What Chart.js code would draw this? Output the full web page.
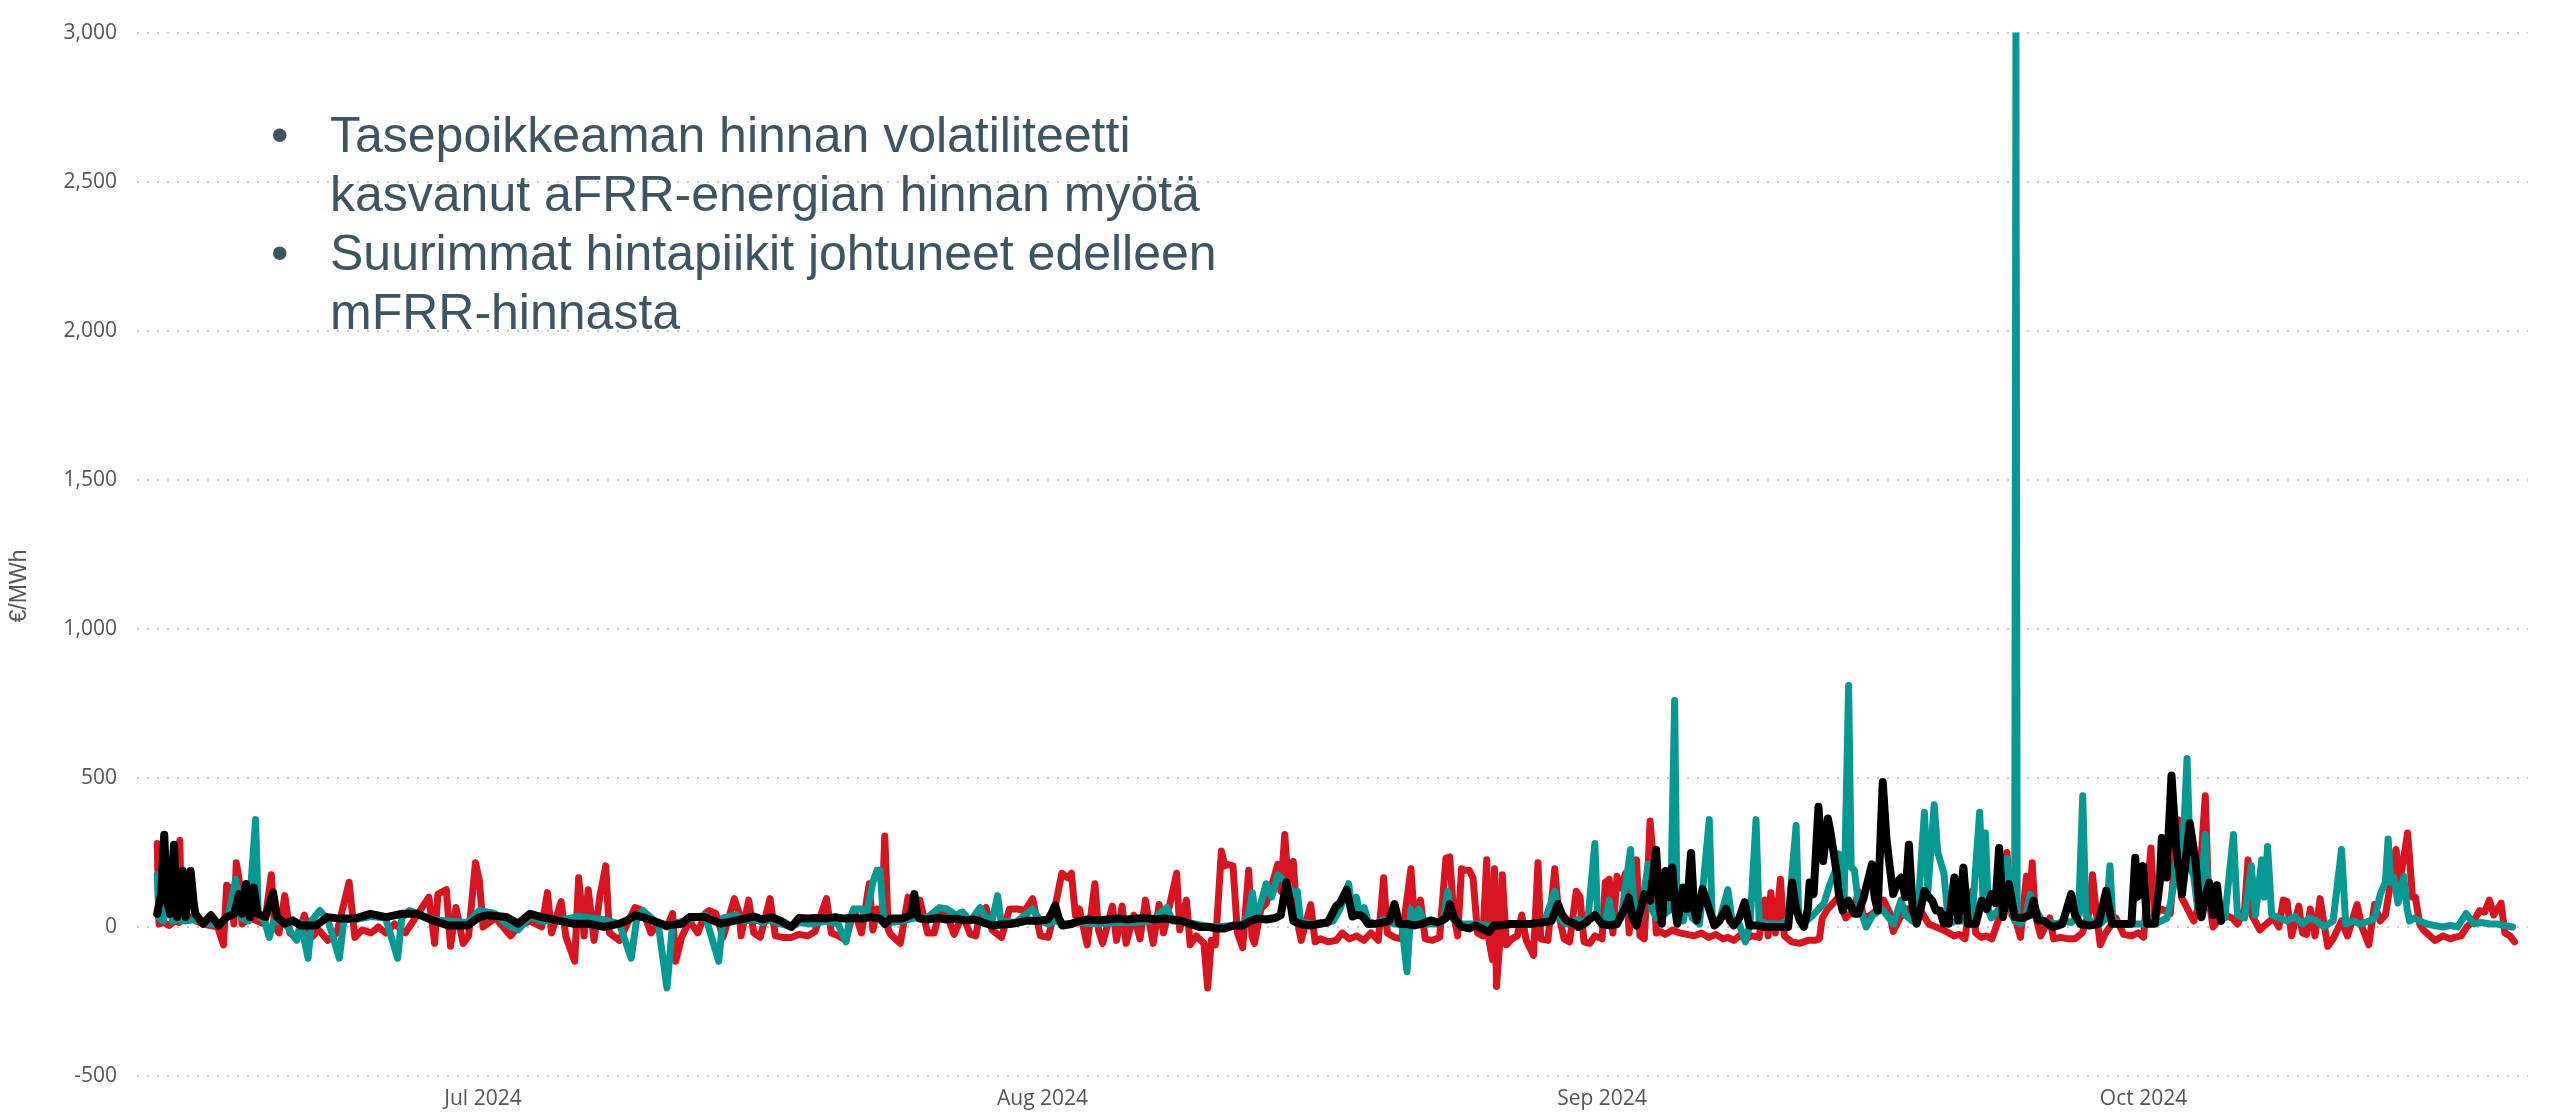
<!DOCTYPE html>
<html>
<head>
<meta charset="utf-8">
<title>Tasepoikkeaman hinta</title>
<script src="https://cdn.jsdelivr.net/npm/chart.js@4.4.1/dist/chart.umd.min.js"></script>
<style>
  html, body { margin: 0; padding: 0; background: #fff; }
  #wrap { position: relative; width: 2552px; height: 1115px; }
  #notes {
    position: absolute; left: 0; top: 106px;
    font-family: "Liberation Sans", Arial, sans-serif;
    font-size: 50px; line-height: 59px; color: #3e5561;
    white-space: nowrap;
  }
  .item { position: relative; padding-left: 330px; }
  .item .dot { position: absolute; left: 271px; top: 0; }
</style>
</head>
<body>
<div id="wrap">
  <canvas id="chart"></canvas>
  <div id="notes">
    <div class="item"><span class="dot">•</span>Tasepoikkeaman hinnan volatiliteetti<br>kasvanut aFRR-energian hinnan myötä</div>
    <div class="item"><span class="dot">•</span>Suurimmat hintapiikit johtuneet edelleen<br>mFRR-hinnasta</div>
  </div>
</div>
<script>
// x = days since 1 Jun 2024
const monthTicks = [30, 61, 92, 122];
const monthLabels = ["Jul 2024", "Aug 2024", "Sep 2024", "Oct 2024"];

// red series [day, €/MWh]
const redSeries = [
  [11.95, 280], [12.05, 10], [12.3, 15], [12.6, 5], [12.9, 20], [13.15, 15], [13.2, 290], [13.3, 20],
  [13.5, 25], [13.8, 35], [14.1, 20], [14.5, 10], [14.9, 5], [15.3, 0], [15.62, -60], [15.8, 140],
  [16.0, 130], [16.2, 10], [16.33, 215], [16.48, 165], [16.65, 10], [17.1, 30], [17.5, 20], [17.9, 10],
  [18.27, 175], [18.45, 0], [18.7, -20], [19.02, 105], [19.3, -20], [19.7, -35], [20.1, 40], [20.5, -35],
  [20.9, -10], [21.4, -45], [21.9, -20], [22.58, 150], [22.9, -35], [23.3, -10], [23.8, -20], [24.2, 0],
  [24.6, -20], [25.1, 10], [25.7, -20], [26.3, 35], [27.0, 100], [27.32, -55], [27.5, 110], [27.97, 125],
  [28.2, -65], [28.5, 65], [28.9, -55], [29.2, -30], [29.58, 215], [29.8, 155], [30.0, 0], [30.7, 30],
  [31.52, -30], [31.95, 0], [32.6, 20], [33.25, 0], [33.57, 115], [33.8, -20], [34.33, 85], [34.6, -35],
  [35.08, -115], [35.3, 165], [35.6, -30], [35.83, 125], [36.15, -45], [36.48, 105], [36.8, 205], [37.0, -20],
  [37.56, -45], [37.99, 10], [38.42, 65], [38.85, 55], [39.3, -20], [39.71, 10], [40.19, 0], [40.5, 45],
  [40.68, -115], [41.0, -35], [41.44, 20], [41.9, -20], [42.3, 45], [42.52, 55], [42.9, 45], [43.3, -35],
  [43.92, 95], [44.2, 45], [44.3, -30], [44.72, 90], [45.0, -20], [45.36, -35], [45.9, 95], [46.2, -30],
  [46.6, -35], [47.09, -35], [47.5, -25], [48.0, -30], [48.4, -15], [49.03, 95], [49.3, -20], [49.7, -30],
  [50.11, -45], [50.54, 60], [50.97, -20], [51.4, 145], [51.6, -10], [51.83, 60], [52.1, 40], [52.26, 305],
  [52.45, -10], [52.58, -25], [53.12, -55], [53.55, 100], [53.9, 40], [54.2, 90], [54.63, -20], [55.0, -20],
  [55.28, 50], [55.71, 40], [56.1, -25], [56.57, 40], [57.0, -25], [57.3, -30], [57.54, 50], [57.87, 65],
  [58.2, -10], [58.73, -35], [59.16, 60], [59.6, 60], [60.02, 55], [60.45, 95], [60.88, -30], [61.31, -35],
  [61.5, 10], [62.07, 180], [62.39, 165], [62.6, 180], [62.82, 40], [63.04, 60], [63.47, -60], [63.9, 145],
  [64.1, -10], [64.33, -55], [64.87, 70], [65.1, -45], [65.41, 70], [65.63, -55], [66.06, 40], [66.4, -40],
  [66.7, 90], [66.9, 20], [67.13, -55], [67.46, 75], [67.7, -20], [68.43, 180], [68.6, -10], [68.97, 90],
  [69.18, -60], [69.51, -30], [69.94, -55], [70.15, -205], [70.35, -45], [70.58, -60], [70.91, 255], [71.1, 205],
  [71.23, 210], [71.55, 205], [71.8, -20], [72.09, -70], [72.42, 190], [72.6, -30], [72.74, -55], [73.1, 60],
  [73.39, 80], [73.7, 140], [74.03, 210], [74.2, 120], [74.42, 310], [74.6, 150], [74.89, 220], [75.11, 20],
  [75.33, -45], [75.86, 75], [76.1, -50], [76.4, -40], [76.84, -50], [77.27, -45], [77.6, -20], [78.0, -40],
  [78.4, -30], [78.8, -45], [79.2, -20], [79.6, -45], [79.9, 165], [80.1, -20], [80.5, -35], [80.9, -40],
  [81.41, 195], [81.6, 30], [81.94, 90], [82.2, -40], [82.6, -45], [83.0, -35], [83.35, 230], [83.56, 235],
  [83.78, 40], [84.0, -30], [84.21, 195], [84.4, 190], [84.64, 190], [84.85, 165], [85.1, -20], [85.4, -30],
  [85.61, 225], [85.72, -40], [85.93, -110], [86.04, 195], [86.15, -200], [86.36, -30], [86.47, 175], [86.7, -60],
  [87.0, -40], [87.3, -30], [87.55, 40], [87.8, -45], [88.2, -95], [88.45, 215], [88.6, -40], [89.0, -45],
  [89.38, 195], [89.6, 40], [89.9, -40], [90.2, -50], [90.57, 120], [90.78, 100], [91.0, -50], [91.32, -55],
  [91.6, -30], [92.0, -40], [92.18, 150], [92.4, 160], [92.6, -20], [92.83, 170], [93.05, 130], [93.3, 180],
  [93.5, -20], [93.91, 225], [94.1, -30], [94.34, -40], [94.55, 200], [94.66, 355], [94.8, 250], [95.0, -20],
  [95.2, -15], [95.5, -25], [95.9, -10], [96.3, -20], [96.7, -25], [97.1, -30], [97.5, -20], [97.9, -35],
  [98.3, -25], [98.7, -40], [98.97, -35], [99.3, -45], [99.6, -30], [99.94, -40], [100.3, -30], [100.7, -35],
  [101.02, 90], [101.2, -30], [101.35, 115], [101.6, -20], [101.88, 160], [102.1, -30], [102.5, -50], [102.96, -55],
  [103.4, -45], [103.8, -45], [104.04, -40], [104.2, 30], [104.5, 60], [104.8, 80], [105.1, 100], [105.5, 30],
  [106.0, 60], [106.19, 120], [106.5, 30], [106.9, 40], [107.3, 60], [107.6, 90], [107.92, 50], [108.13, -15],
  [108.5, 30], [108.9, 60], [109.3, 20], [109.7, 50], [110.1, 10], [110.5, 0], [110.9, -10], [111.2, -20],
  [111.5, -30], [111.8, -25], [112.1, -40], [112.49, 120], [112.7, -20], [113.0, -35], [113.3, -30], [113.6, -40],
  [114.0, 30], [114.43, 250], [114.7, 40], [114.93, 20], [115.18, -35], [115.51, 170], [115.72, 100], [115.83, 215],
  [116.0, 40], [116.3, -30], [116.8, 30], [117.02, -40], [117.4, -35], [117.8, -40], [118.2, -40], [118.6, -20],
  [119.0, 50], [119.17, 175], [119.4, 40], [119.6, -60], [119.9, -20], [120.47, 30], [120.9, -25], [121.33, -30],
  [121.7, -20], [122.0, -35], [122.41, 265], [122.6, 40], [123.0, 60], [123.48, 45], [123.91, 360], [124.1, 100],
  [124.78, 20], [125.0, 60], [125.42, 440], [125.6, 100], [125.85, 0], [126.1, 20], [126.5, 40], [126.9, 30],
  [127.2, 10], [127.6, 60], [127.79, 225], [128.0, 40], [128.44, -10], [128.8, 10], [129.2, 30], [129.5, 0],
  [129.74, 90], [129.95, 85], [130.2, -30], [130.6, 70], [130.8, -20], [131.03, -25], [131.24, 60], [131.5, -30],
  [131.78, 95], [132.0, 10], [132.21, -65], [132.5, -40], [132.97, 20], [133.3, -30], [133.83, 75], [134.1, 0],
  [134.48, -60], [134.8, 75], [135.1, 20], [135.4, 40], [135.99, 260], [136.2, 150], [136.63, 315], [136.9, 100],
  [137.06, 100], [137.3, 10], [137.5, -10], [138.14, -45], [138.6, -30], [139.0, -40], [139.22, -35], [139.6, -30],
  [139.9, 0], [140.3, 20], [140.62, 55], [140.9, 50], [141.16, 90], [141.4, 40], [141.81, 80], [142.02, -20],
  [142.3, -30], [142.56, -50]
];

// teal series [day, €/MWh]
const tealSeries = [
  [11.95, 175], [12.05, 30], [12.3, 20], [12.55, 100], [12.8, 20], [13.1, 25], [13.5, 20], [14.0, 25],
  [14.5, 15], [15.0, 10], [15.5, 10], [15.9, 40], [16.3, 160], [16.6, 30], [17.0, 20], [17.4, 360],
  [17.55, 40], [17.9, 20], [18.16, -35], [18.4, 20], [19.0, 15], [19.67, -45], [19.9, 15], [20.31, -105],
  [20.5, 20], [20.96, 55], [21.4, 25], [22.04, -105], [22.3, 25], [22.9, 25], [23.8, 35], [24.6, 30],
  [25.27, -105], [25.5, 30], [25.92, 55], [26.35, 45], [27.2, 25], [28.07, 20], [29.15, 15], [29.8, 55],
  [30.66, 45], [31.3, 10], [31.95, -10], [32.6, 35], [33.25, 20], [34.5, 25], [35.3, 35], [36.7, 25],
  [37.56, 10], [38.21, -105], [38.5, 20], [38.85, 55], [39.71, 10], [40.19, -205], [40.5, 10], [41.44, 25],
  [42.3, 40], [43.06, -115], [43.3, 30], [44.03, 40], [44.5, 20], [45.0, 25], [45.5, 15], [45.9, 25],
  [46.5, 10], [47.09, 0], [47.5, 15], [48.2, 10], [49.0, 20], [49.67, 10], [50.11, -50], [50.3, 25],
  [50.54, 60], [50.97, 60], [51.2, 30], [51.6, 150], [51.83, 190], [52.0, 190], [52.2, 20], [52.6, 15],
  [53.2, 20], [53.9, 30], [54.6, 30], [55.28, 65], [55.71, 60], [56.2, 40], [56.57, 50], [57.0, 20],
  [57.54, 65], [57.87, 30], [58.2, 20], [58.51, 105], [58.7, 20], [59.5, 15], [60.45, 60], [60.88, 20],
  [61.3, 10], [61.7, 20], [62.2, 10], [63.0, 15], [64.0, 10], [65.0, 15], [66.0, 15], [67.0, 20],
  [67.89, 65], [68.2, 20], [69.0, 15], [69.9, 5], [70.6, 0], [71.5, 5], [72.09, 10], [72.42, 40],
  [72.63, 115], [72.8, 30], [73.1, 80], [73.39, 145], [73.7, 100], [74.03, 175], [74.3, 160], [74.5, 150],
  [74.9, 110], [75.11, 120], [75.3, 20], [75.8, 10], [76.5, 15], [77.1, 20], [77.48, 60], [77.96, 145],
  [78.17, 50], [78.39, 100], [78.6, 40], [78.82, 65], [79.03, 20], [79.47, 10], [79.9, 25], [80.5, 10],
  [80.9, 10], [81.19, -150], [81.41, 60], [81.62, 20], [81.84, 60], [82.2, 10], [82.8, 10], [83.2, 20],
  [83.45, 120], [83.7, 30], [84.2, 10], [85.0, 10], [85.8, 5], [86.5, 5], [87.3, 10], [88.1, 10],
  [88.8, 15], [89.38, 120], [89.6, 30], [90.0, 10], [90.67, 25], [91.2, 15], [91.6, 280], [91.75, 30],
  [92.18, 20], [92.4, 90], [92.6, 20], [93.05, 30], [93.58, 260], [93.75, 80], [94.1, 30], [94.34, 120],
  [94.55, 210], [94.75, 60], [95.0, 30], [95.4, 40], [95.8, 60], [96.02, 760], [96.15, 60], [96.5, 20],
  [96.71, 90], [97.0, 30], [97.4, 10], [97.94, 360], [98.1, 30], [98.5, 20], [98.97, 125], [99.2, 20],
  [99.6, 10], [99.94, -50], [100.2, 10], [100.53, 360], [100.7, 20], [101.2, 10], [101.8, 10], [102.3, 20],
  [102.75, 340], [102.9, 30], [103.3, 20], [103.7, 40], [104.0, 60], [104.3, 80], [104.6, 140], [105.0, 200],
  [105.12, 245], [105.4, 60], [105.66, 810], [105.8, 200], [105.98, 190], [106.2, 80], [106.63, 0], [107.0, 40],
  [107.5, 60], [107.9, 30], [108.13, 10], [108.57, 90], [108.8, 40], [109.2, 20], [109.5, 60], [109.86, 385],
  [110.05, 120], [110.4, 410], [110.6, 250], [110.94, 180], [111.2, 10], [111.6, 20], [112.0, 20], [112.5, 30],
  [112.92, 385], [113.1, 100], [113.24, 315], [113.4, 60], [113.57, 30], [114.0, 60], [114.43, 230], [114.6, 80],
  [114.86, 20], [114.93, 3000], [115.0, 20], [115.18, 10], [115.5, 40], [115.72, 110], [116.0, 60], [116.4, 20],
  [116.8, 15], [117.2, 10], [117.6, 20], [118.0, 15], [118.4, 40], [118.63, 440], [118.8, 40], [119.2, 10],
  [119.6, 10], [119.93, 30], [120.14, 205], [120.3, 20], [120.8, 10], [121.3, 10], [121.8, 10], [122.3, 10],
  [122.8, 15], [123.3, 30], [123.48, 77], [123.7, 150], [123.91, 285], [124.1, 150], [124.41, 565], [124.6, 200],
  [124.78, 170], [125.0, 60], [125.21, 120], [125.42, 310], [125.6, 90], [125.85, 60], [126.2, 50], [126.5, 30],
  [126.98, 310], [127.2, 40], [127.6, 30], [127.97, 205], [128.2, 40], [128.55, 225], [128.7, 100], [128.87, 270],
  [129.1, 40], [129.5, 30], [129.95, 20], [130.4, 35], [130.8, 10], [131.2, 30], [131.6, 20], [132.0, 0],
  [132.5, 20], [132.97, 260], [133.2, 10], [133.6, 20], [134.0, 10], [134.5, 20], [134.8, 30], [135.12, 110],
  [135.4, 150], [135.55, 295], [135.7, 150], [135.88, 165], [136.1, 80], [136.42, 170], [136.6, 60], [136.74, 20],
  [137.0, 30], [137.3, 20], [137.71, 10], [138.1, 5], [138.57, 0], [139.0, 5], [139.4, 0], [139.87, 45],
  [140.3, 10], [140.7, 15], [141.2, 10], [141.6, 10], [142.0, 5], [142.45, 0]
];

// black series [day, €/MWh]
const blackSeries = [
  [11.95, 44], [12.17, 110], [12.34, 309], [12.49, 88], [12.66, 44], [12.88, 276], [13.05, 33], [13.2, 88],
  [13.37, 188], [13.52, 33], [13.8, 188], [13.96, 88], [14.06, 44], [14.49, 11], [14.93, 39], [15.36, 5],
  [15.79, 33], [16.22, 44], [16.48, 110], [16.65, 44], [16.87, 144], [17.08, 33], [17.3, 132], [17.51, 44],
  [17.94, 33], [18.37, 116], [18.59, 33], [19.02, 11], [19.45, 22], [19.88, 5], [20.75, 5], [21.39, 33],
  [22.04, 28], [22.9, 28], [23.76, 44], [24.63, 33], [25.49, 44], [26.35, 44], [27.21, 22], [28.07, 5],
  [29.15, 5], [29.8, 33], [30.23, 39], [31.31, 33], [31.95, 11], [32.6, 44], [33.25, 33], [34.11, 22],
  [34.97, 11], [35.83, 11], [36.7, 0], [37.56, 11], [37.99, 22], [38.42, 39], [38.85, 33], [40.14, 5],
  [41.01, 11], [41.44, 33], [42.3, 33], [43.16, 11], [44.03, 22], [44.5, 28], [45.0, 35], [45.5, 25],
  [46.0, 33], [46.5, 20], [47.09, 0], [47.3, 15], [47.52, 30], [48.0, 28], [48.4, 30], [49.0, 28],
  [49.5, 33], [50.0, 28], [50.5, 30], [51.0, 28], [51.5, 33], [52.0, 28], [52.26, 10], [52.6, 28],
  [53.2, 28], [53.7, 40], [53.9, 110], [54.05, 40], [54.2, 28], [54.6, 25], [55.2, 30], [55.7, 25],
  [56.2, 28], [56.7, 22], [57.2, 25], [57.7, 15], [58.2, 5], [58.7, 8], [59.2, 10], [59.7, 15],
  [60.2, 22], [60.7, 20], [61.3, 25], [61.5, 45], [61.7, 72], [61.9, 30], [62.1, 5], [62.6, 10],
  [63.0, 20], [63.5, 25], [64.1, 22], [64.6, 25], [65.2, 28], [65.7, 25], [66.2, 28], [66.7, 30],
  [67.2, 25], [67.7, 28], [68.2, 25], [68.7, 20], [69.2, 10], [69.7, 0], [70.2, 0], [70.6, -5],
  [71.1, -5], [71.6, 5], [72.09, 5], [72.5, 20], [72.9, 28], [73.4, 25], [73.9, 30], [74.2, 40],
  [74.51, 150], [74.7, 90], [74.9, 20], [75.3, 10], [75.8, 5], [76.3, 10], [76.8, 15], [77.27, 70],
  [77.48, 80], [77.85, 125], [78.17, 35], [78.39, 40], [78.6, 40], [78.82, 30], [79.03, 10], [79.47, 11],
  [79.9, 15], [80.2, 20], [80.5, 77], [80.76, 11], [81.19, 10], [81.62, 5], [82.0, 10], [82.48, 22],
  [82.9, 15], [83.35, 30], [83.56, 77], [83.8, 30], [84.21, 0], [84.64, -5], [85.0, 5], [85.72, -17],
  [86.0, 5], [86.36, 5], [86.9, 10], [87.5, 10], [88.09, 11], [88.7, 15], [89.2, 20], [89.55, 77],
  [89.8, 40], [90.03, 22], [90.5, 10], [90.67, 0], [91.0, 10], [91.6, 40], [92.0, 10], [92.4, 5],
  [92.83, 10], [93.05, 38], [93.26, 60], [93.48, 99], [93.7, 30], [93.91, 5], [94.34, 110], [94.66, 88],
  [94.99, 259], [95.2, 60], [95.31, 11], [95.52, 188], [95.7, 100], [95.89, 199], [96.05, 60], [96.17, 11],
  [96.49, 132], [96.7, 60], [96.93, 248], [97.1, 60], [97.25, 22], [97.57, 127], [97.9, 66], [98.22, 5],
  [98.5, 20], [98.87, 61], [99.1, 20], [99.3, 5], [99.6, 30], [99.9, 83], [100.16, 5], [100.6, 5],
  [101.0, 0], [101.5, 0], [102.0, 0], [102.31, 0], [102.53, 149], [102.75, 60], [102.96, 22], [103.18, 0],
  [103.4, 60], [103.5, 149], [103.72, 110], [103.99, 403], [104.1, 300], [104.25, 221], [104.4, 300], [104.51, 364],
  [104.65, 320], [104.79, 265], [105.0, 180], [105.12, 110], [105.33, 55], [105.5, 80], [105.66, 88], [105.98, 44],
  [106.19, 44], [106.5, 100], [106.95, 210], [107.1, 100], [107.27, 55], [107.55, 486], [107.75, 300], [107.92, 210],
  [108.13, 110], [108.35, 150], [108.57, 166], [108.8, 100], [109.0, 276], [109.21, 60], [109.43, 11], [109.65, 60],
  [109.86, 121], [110.1, 100], [110.29, 88], [110.5, 55], [110.72, 55], [110.94, 11], [111.1, 40], [111.2, 11],
  [111.52, 166], [111.74, 22], [112.02, 199], [112.27, 11], [112.71, 11], [113.03, 88], [113.3, 60], [113.57, 110],
  [113.8, 80], [114.0, 265], [114.21, 33], [114.54, 144], [114.86, 33], [115.3, 30], [115.7, 40], [115.9, 88],
  [116.15, 22], [116.5, 20], [116.8, 5], [117.02, 0], [117.5, 10], [117.99, 110], [118.2, 40], [118.5, 10],
  [119.0, 5], [119.5, 10], [119.93, 121], [120.25, 11], [120.8, 10], [121.33, 11], [121.54, 232], [121.65, 100],
  [121.76, 110], [121.97, 204], [122.2, 11], [122.62, 11], [122.9, 150], [123.01, 298], [123.27, 166], [123.55, 508],
  [123.81, 265], [124.13, 110], [124.3, 200], [124.56, 348], [124.88, 221], [125.1, 60], [125.21, 33], [125.42, 100],
  [125.64, 149], [125.85, 40], [126.07, 140], [126.29, 20]
];

const toPoints = (arr) => arr.map((p) => ({ x: p[0], y: p[1] }));

// y-axis title, placed like the original
const yTitle = {
  id: "yTitle",
  afterDraw(chart) {
    const ctx = chart.ctx;
    ctx.save();
    ctx.translate(20, 586);
    ctx.rotate(-Math.PI / 2);
    ctx.font = '23px "Liberation Sans", Arial, sans-serif';
    ctx.fillStyle = "#555";
    ctx.textAlign = "center";
    ctx.textBaseline = "middle";
    ctx.fillText("€/MWh", 0, 0);
    ctx.restore();
  },
};

const lineStyle = {
  pointRadius: 0,
  borderJoinStyle: "round",
  borderCapStyle: "round",
  tension: 0,
  fill: false,
};

const tickFont = { family: '"Open Sans", Arial, sans-serif', size: 21 };

new Chart(document.getElementById("chart"), {
  type: "line",
  data: {
    datasets: [
      { label: "mFRR", data: toPoints(blackSeries), borderColor: "#000000", borderWidth: 8, ...lineStyle },
      { label: "Tasepoikkeama", data: toPoints(tealSeries), borderColor: "#069994", borderWidth: 7, ...lineStyle },
      { label: "aFRR", data: toPoints(redSeries), borderColor: "#d7141f", borderWidth: 7, ...lineStyle },
    ],
  },
  options: {
    responsive: true,
    maintainAspectRatio: false,
    animation: false,
    layout: { padding: { top: 19, right: 24, bottom: 0, left: 0 } },
    plugins: { legend: { display: false }, tooltip: { enabled: false } },
    scales: {
      x: {
        type: "linear",
        min: 10.83,
        max: 143.3,
        grid: { display: false, drawTicks: false },
        border: { display: false },
        afterBuildTicks: (scale) => {
          scale.ticks = monthTicks.map((v) => ({ value: v }));
        },
        afterFit: (scale) => {
          scale.height = 39;
        },
        ticks: {
          autoSkip: false,
          maxRotation: 0,
          padding: 10,
          color: "#555",
          font: tickFont,
          callback: (v) => {
            const i = monthTicks.indexOf(v);
            return i >= 0 ? monthLabels[i] : "";
          },
        },
      },
      y: {
        min: -500,
        max: 3000,
        grid: { color: "#c8c8c8", lineWidth: 2, drawTicks: false },
        border: { display: false, dash: [2, 8] },
        afterFit: (scale) => {
          scale.width = 137;
        },
        ticks: {
          stepSize: 500,
          padding: 20,
          color: "#555",
          font: tickFont,
          callback: (v) => v.toLocaleString("en-US"),
        },
      },
    },
  },
  plugins: [yTitle],
});
</script>
</body>
</html>
